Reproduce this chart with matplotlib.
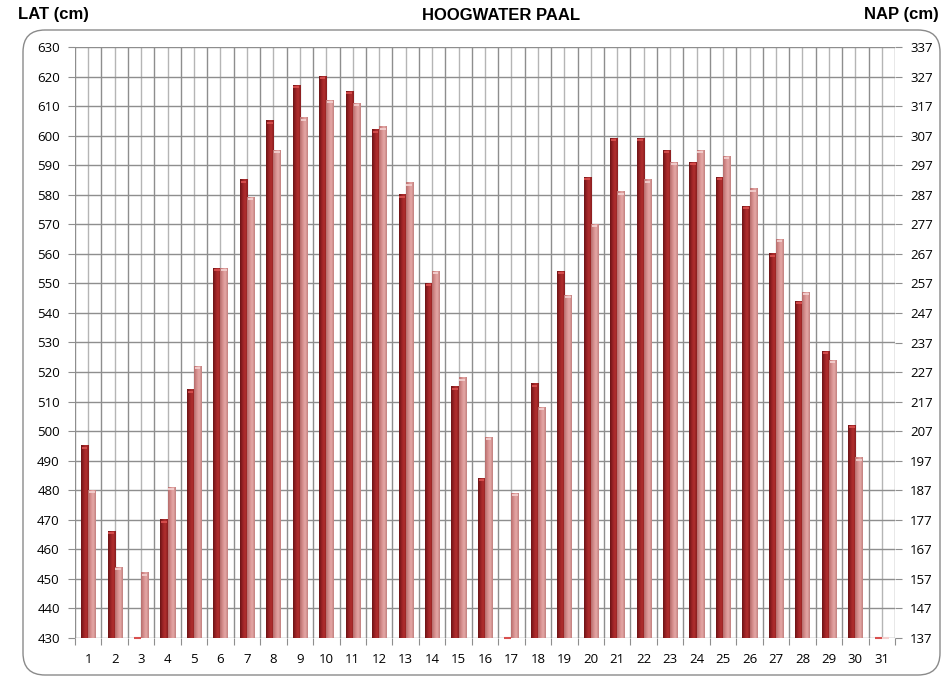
import numpy as np
import matplotlib
matplotlib.use("Agg")
import matplotlib.pyplot as plt
from matplotlib.patches import FancyBboxPatch
from matplotlib.transforms import IdentityTransform
from matplotlib.colors import LinearSegmentedColormap

# dagen van de maand
days = list(range(1, 32))

# hoogwater LAT (cm), 430 = geen waarde
lat_dark = [495, 466, 430, 470, 514, 555, 585, 605, 617, 620, 615, 602, 580, 550, 515,
            484, 430, 516, 554, 586, 599, 599, 595, 591, 586, 576, 560, 544, 527, 502, 430]
lat_pink = [480, 454, 452, 481, 522, 555, 579, 595, 606, 612, 611, 603, 584, 554, 518,
            498, 479, 508, 546, 570, 581, 585, 591, 595, 593, 582, 565, 547, 524, 491, 430]

lat_ticks = list(range(430, 631, 10))
nap_ticks = list(range(137, 338, 10))

plt.rcParams['font.family'] = ['Open Sans', 'DejaVu Sans']

fig = plt.figure(figsize=(9.48, 6.78), dpi=100)
ax = fig.add_axes([75 / 948, 40 / 678, 820 / 948, 591 / 678])

grid_col = '#8e8e8e'
x = np.array(days, dtype=float)
w = 0.27

cm_dark = LinearSegmentedColormap.from_list('d', ['#6a1416', '#9a2225', '#b3302f', '#861c1e'])
cm_pink = LinearSegmentedColormap.from_list('p', ['#b46c6b', '#d68e8d', '#e6aaa8', '#c27e7d'])
grad = np.linspace(0, 1, 32).reshape(1, -1)

def draw_bars(vals, offset, cmap, cap):
    for xi, v in zip(x, vals):
        x0 = xi + offset - w / 2
        if v <= 430:
            ax.plot([x0, x0 + w], [430, 430], color=cap, lw=1.5, zorder=4,
                    solid_capstyle='butt', clip_on=False)
            continue
        ax.imshow(grad, extent=(x0, x0 + w, 430, v), aspect='auto', cmap=cmap,
                  interpolation='bicubic', zorder=3)
        ax.plot([x0 + 0.03, x0 + w - 0.03], [v - 0.6, v - 0.6], color=cap, lw=1.3,
                zorder=4, solid_capstyle='butt')

draw_bars(lat_dark, -0.135, cm_dark, '#d9504f')
draw_bars(lat_pink, 0.135, cm_pink, '#f3d0cf')

ax.set_xlim(0.5, 31.5)
ax.set_ylim(430, 630)
ax.set_yticks(lat_ticks)

ax.set_xticks(np.arange(0.5, 32, 1))
ax.set_xticklabels([])
ax.set_xticks(x, minor=True)
ax.set_xticklabels([str(d) for d in days], minor=True)
ax.tick_params(axis='x', which='major', length=5, color=grid_col)
ax.tick_params(axis='x', which='minor', length=0, pad=11, labelsize=9.5)
ax.tick_params(axis='y', length=5, color=grid_col, labelsize=9.5, pad=6)

ax.grid(True, which='major', axis='both', color=grid_col, lw=1.0, zorder=0)
ax.grid(True, which='minor', axis='x', color='#b5b5b5', lw=1.0, zorder=0)
ax.set_axisbelow(True)
for s in ax.spines.values():
    s.set_visible(False)

ax2 = ax.twinx()
ax2.set_ylim(137, 337)
ax2.set_yticks(nap_ticks)
ax2.tick_params(axis='y', length=5, color=grid_col, labelsize=9.5, pad=6)
for s in ax2.spines.values():
    s.set_visible(False)

# kader met ronde hoeken (pixels)
box = FancyBboxPatch((23, 3), 917, 645, boxstyle='round,pad=0,rounding_size=22',
                     transform=IdentityTransform(), fill=False, ec='#8a8a8a', lw=1.0)
fig.patches.append(box)

tf = ['Liberation Sans', 'DejaVu Sans']
fig.text(18 / 948, 1 - 15 / 678, 'LAT (cm)', fontsize=12, fontweight='bold', family=tf,
         ha='left', va='center')
fig.text(501 / 948, 1 - 15 / 678, 'HOOGWATER PAAL', fontsize=12, fontweight='bold', family=tf,
         ha='center', va='center')
fig.text(939 / 948, 1 - 15 / 678, 'NAP (cm)', fontsize=12, fontweight='bold', family=tf,
         ha='right', va='center')

fig.savefig('out.png', dpi=100)
